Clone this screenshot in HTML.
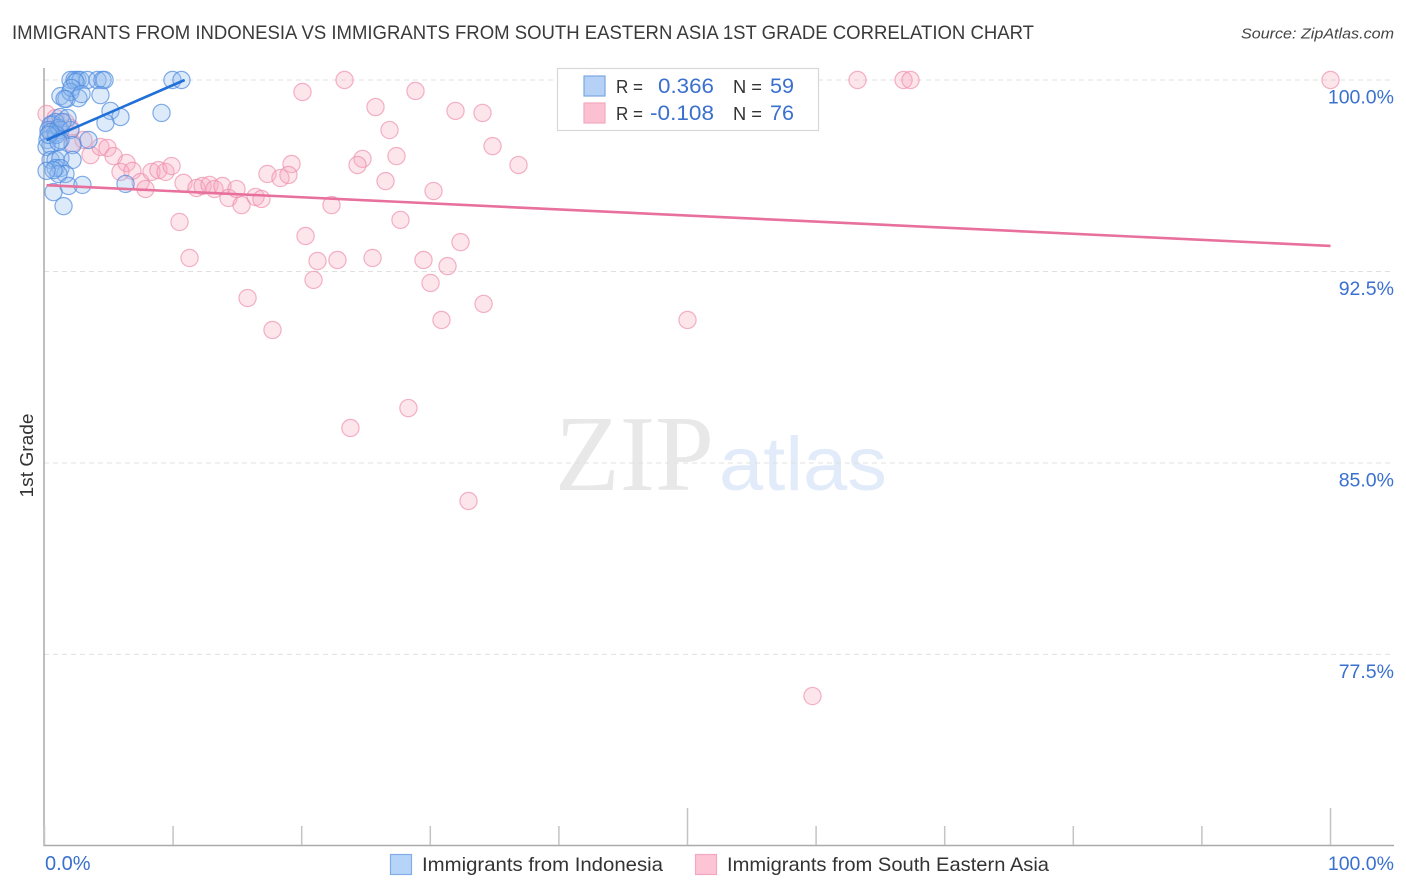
<!DOCTYPE html>
<html lang="en">
<head>
<meta charset="utf-8">
<title>Immigrants from Indonesia vs Immigrants from South Eastern Asia 1st Grade Correlation Chart</title>
<style>
html,body{margin:0;padding:0;background:#fff;width:1406px;height:892px;overflow:hidden}
svg{display:block}
text{font-family:"Liberation Sans",sans-serif}
</style>
</head>
<body>
<svg id="chart" width="1406" height="892" viewBox="0 0 1406 892" xmlns="http://www.w3.org/2000/svg">
  <text x="12" y="39" font-size="19.5" fill="#3a3a3a" textLength="1022" lengthAdjust="spacingAndGlyphs">IMMIGRANTS FROM INDONESIA VS IMMIGRANTS FROM SOUTH EASTERN ASIA 1ST GRADE CORRELATION CHART</text>
  <text x="1241" y="38.5" font-size="15" font-style="italic" fill="#444" textLength="153" lengthAdjust="spacingAndGlyphs">Source: ZipAtlas.com</text>

  <g>
    <text x="555" y="490" font-size="108" style="font-family:'Liberation Serif',serif" fill="#e8e8e8" textLength="159" lengthAdjust="spacingAndGlyphs">ZIP</text>
    <text x="719" y="490" font-size="76" fill="#e2ebf9" textLength="168" lengthAdjust="spacingAndGlyphs">atlas</text>
  </g>

  <g id="grid"></g>
  <g id="axes">
    <line x1="44" y1="68" x2="44" y2="846" stroke="#aaa" stroke-width="1.5"/>
    <line x1="44" y1="845.5" x2="1394" y2="845.5" stroke="#aaa" stroke-width="1.5"/>
  </g>
  <g id="xticks"></g>
  <g id="xlabels"></g>
  <g id="ylabels"></g>
  <text transform="translate(33,455.5) rotate(-90)" text-anchor="middle" font-size="18.5" fill="#333" textLength="84" lengthAdjust="spacingAndGlyphs">1st Grade</text>

  <g id="pink-points"></g>
  <g id="blue-points"></g>
  <g id="trends"></g>

  <g>
    <rect x="557.5" y="68.5" width="261" height="62" fill="#fff" fill-opacity="0.92" stroke="#d8d8d8" stroke-width="1.2"/>
    <rect x="584" y="76" width="21" height="20" fill="#a9c9f5" fill-opacity="0.85" stroke="#7ba7e3" stroke-width="1.2"/>
    <rect x="584" y="103" width="21" height="20" fill="#fbc0d2" stroke="#f2a8bf" stroke-width="1.2"/>
    <text x="616" y="93" font-size="18.5" fill="#333" textLength="27" lengthAdjust="spacingAndGlyphs">R =</text>
    <text x="658" y="93" font-size="21" fill="#3a70cf" textLength="56" lengthAdjust="spacingAndGlyphs">0.366</text>
    <text x="733" y="93" font-size="18.5" fill="#333" textLength="29" lengthAdjust="spacingAndGlyphs">N =</text>
    <text x="770" y="93" font-size="21" fill="#3a70cf" textLength="24" lengthAdjust="spacingAndGlyphs">59</text>
    <text x="616" y="120" font-size="18.5" fill="#333" textLength="27" lengthAdjust="spacingAndGlyphs">R =</text>
    <text x="650" y="120" font-size="21" fill="#3a70cf" textLength="64" lengthAdjust="spacingAndGlyphs">-0.108</text>
    <text x="733" y="120" font-size="18.5" fill="#333" textLength="29" lengthAdjust="spacingAndGlyphs">N =</text>
    <text x="770" y="120" font-size="21" fill="#3a70cf" textLength="24" lengthAdjust="spacingAndGlyphs">76</text>
  </g>

  <g>
    <rect x="390.5" y="854.5" width="21" height="20" fill="#b6d3f8" stroke="#82ade6" stroke-width="1.2"/>
    <text x="422" y="871" font-size="19.5" fill="#333" textLength="241" lengthAdjust="spacingAndGlyphs">Immigrants from Indonesia</text>
    <rect x="695.5" y="854.5" width="21" height="20" fill="#fcc4d5" stroke="#f2a8bf" stroke-width="1.2"/>
    <text x="727" y="871" font-size="19.5" fill="#333" textLength="322" lengthAdjust="spacingAndGlyphs">Immigrants from South Eastern Asia</text>
  </g>
</svg>
<script>
const yTicks = [100, 92.5, 85, 77.5];
const yTickLabels = ["100.0%", "92.5%", "85.0%", "77.5%"];
const xTicks = [0, 10, 20, 30, 40, 50, 60, 70, 80, 90, 100];
const xMajorTicks = [50, 100];
const xTickLabels = ["0.0%", "100.0%"];
const xTickLabelValues = [0, 100];

const blueX = [2.02,2.33,2.57,2.80,3.34,2.41,4.12,4.51,4.67,9.95,10.65,1.24,1.71,2.02,2.10,2.64,2.88,4.35,5.13,5.91,4.74,9.10,1.56,1.24,1.79,0.62,0.86,0.47,0.31,0.86,1.09,1.24,2.02,2.18,3.42,0.23,0.47,1.24,0.16,0.47,0.86,1.24,2.18,0.86,1.24,1.63,1.09,0.70,0.16,1.87,2.95,6.30,0.70,1.48,0.93,1.40,0.47,0.31,1.09];
const blueY = [100,100,100,100,100,99.92,100,100,100,100,100,99.37,99.26,99.53,99.69,99.29,99.45,99.41,98.79,98.55,98.32,98.71,99.26,98.55,98.51,98.28,98.35,98.24,98.04,97.92,98.12,98.04,98.04,97.45,97.65,97.65,97.45,97.65,97.38,96.87,96.87,96.94,96.87,96.55,96.55,96.32,96.32,96.47,96.44,95.85,95.89,95.93,95.61,95.06,97.85,98.35,97.96,97.85,97.57];

const pinkX = [23.33,63.22,66.80,67.34,100,20.06,28.85,25.74,31.96,34.06,26.83,34.84,36.86,27.37,24.73,24.34,19.21,26.52,30.25,22.32,27.68,20.30,32.35,10.50,11.28,21.23,22.78,25.51,29.47,31.34,20.92,30.02,15.79,34.14,30.87,50.0,17.73,28.30,23.79,32.97,59.72,0.16,0.86,1.63,2.02,3.03,3.58,4.35,4.90,5.37,6.38,5.91,6.84,7.47,7.85,8.32,8.86,9.41,9.88,10.81,11.82,12.29,12.83,13.22,13.84,14.31,14.93,15.32,16.41,16.87,17.34,18.35,18.97,0.47,1.09,2.18,42.6];
const pinkY = [100,100,100,100,100,99.53,99.57,98.94,98.79,98.71,98.04,97.41,96.67,97.02,96.91,96.67,96.71,96.04,95.65,95.10,94.52,93.89,93.65,94.44,93.03,92.91,92.95,93.03,92.95,92.71,92.17,92.05,91.46,91.23,90.60,90.60,90.21,87.15,86.37,83.51,75.87,98.67,98.51,98.35,98.12,97.65,97.06,97.38,97.34,97.02,96.75,96.40,96.44,96.00,95.73,96.40,96.47,96.40,96.63,95.97,95.77,95.85,95.89,95.73,95.85,95.38,95.73,95.10,95.42,95.34,96.32,96.16,96.28,98.04,98.12,97.53,100];

const blueTrendX = [0.16, 10.9];
const blueTrendY = [97.65, 100];
const pinkTrendX = [0.16, 100];
const pinkTrendY = [95.88, 93.5];

const NS = "http://www.w3.org/2000/svg";
function xScale(v) { return 44.5 + v * 12.86; }
function yScale(v) { return 80 + (100 - v) * 25.53; }
function make(tag, attrs) {
  const el = document.createElementNS(NS, tag);
  for (const k in attrs) el.setAttribute(k, attrs[k]);
  return el;
}

const grid = document.getElementById("grid");
yTicks.forEach(function (t) {
  const el = make("line", {x1: 44, x2: 1394, y1: yScale(t), y2: yScale(t), stroke: "#e0e0e0", "stroke-width": 1, "stroke-dasharray": "5 4"});
  
  
  grid.appendChild(el);
});

const xt = document.getElementById("xticks");
xTicks.forEach(function (t) {
  const top = xMajorTicks.indexOf(t) >= 0 ? 808 : 826;
  const el = make("line", {x1: xScale(t), x2: xScale(t), y1: top, y2: 845, stroke: "#c4c4c4", "stroke-width": 1.5});
  
  
  xt.appendChild(el);
});

const xl = document.getElementById("xlabels");
xTickLabelValues.forEach(function (t, i) {
  const el = make("text", {x: t === 0 ? 45 : 1394, y: 870, "font-size": t === 0 ? 20 : 19.5, fill: "#3a70cf", "text-anchor": t === 0 ? "start" : "end"});
  
  
  el.textContent = xTickLabels[i];
  xl.appendChild(el);
});

const yl = document.getElementById("ylabels");
yTicks.forEach(function (t, i) {
  const el = make("text", {x: 1394, y: yScale(t) + 23.5, "font-size": 19.5, fill: "#3a70cf", "text-anchor": "end"});
  
  
  el.textContent = yTickLabels[i];
  yl.appendChild(el);
});

const pg = document.getElementById("pink-points");
pinkX.forEach(function (v, i) {
  const el = make("circle", {cx: xScale(v), cy: yScale(pinkY[i]), r: 8.6, fill: "#f9a8c0", "fill-opacity": 0.3, stroke: "#ec8aa9", "stroke-opacity": 0.65, "stroke-width": 1.2});
  
  
  pg.appendChild(el);
});

const bg = document.getElementById("blue-points");
blueX.forEach(function (v, i) {
  const el = make("circle", {cx: xScale(v), cy: yScale(blueY[i]), r: 8.6, fill: "#8fb8ee", "fill-opacity": 0.3, stroke: "#4f8ade", "stroke-opacity": 0.7, "stroke-width": 1.2});
  
  
  bg.appendChild(el);
});

const tr = document.getElementById("trends");
const pinkLine = make("line", {x1: xScale(pinkTrendX[0]), y1: yScale(pinkTrendY[0]), x2: xScale(pinkTrendX[1]), y2: yScale(pinkTrendY[1]), stroke: "#e8709c", "stroke-width": 2.6});


tr.appendChild(pinkLine);
const blueLine = make("line", {x1: xScale(blueTrendX[0]), y1: yScale(blueTrendY[0]), x2: xScale(blueTrendX[1]), y2: yScale(blueTrendY[1]), stroke: "#2070d8", "stroke-width": 2.6});


tr.appendChild(blueLine);
</script>
</body>
</html>
